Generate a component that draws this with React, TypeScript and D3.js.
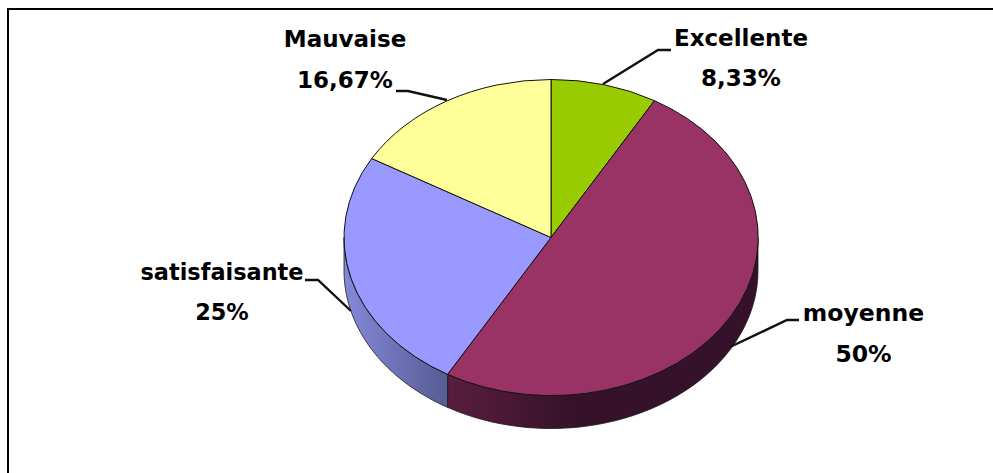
import React from "react";
import * as d3 from "d3";

const categories = ["Excellente", "moyenne", "satisfaisante", "Mauvaise"];
const shares = [8.33, 50, 25, 16.67];
const shareLabels = ["8,33%", "50%", "25%", "16,67%"];
const topColors = ["#99cc00", "#993366", "#9999ff", "#ffff99"];
const wallLight = ["#6b8f00", "#5a1d3e", "#8389d8", "#b3b36b"];
const wallDark = ["#3f5500", "#36122a", "#565c94", "#77774a"];
const wallTurn = [1, 0.4, 1, 1];

const W = 993, H = 473;
const cx = 551, cy = 237.5, rx = 207, ry = 158, depth = 33;

const LABELS: Record<string, { x: number; y1: number; y2: number; size: number; leader: [number, number][] }> = {
  Excellente: { x: 741, y1: 45.5, y2: 86, size: 23, leader: [[603, 84], [658, 50], [671, 50]] },
  moyenne: { x: 863.5, y1: 321, y2: 362, size: 23.5, leader: [[730, 347], [787, 320], [799, 320]] },
  satisfaisante: { x: 222, y1: 280, y2: 319.5, size: 22.4, leader: [[351, 311], [318, 280], [305, 280]] },
  Mauvaise: { x: 345, y1: 47, y2: 88, size: 23, leader: [[447, 100], [408, 91], [396, 91]] },
};

export default function App() {
  const pie = d3.pie<number>().sort(null).value((d) => d);
  const arcs = pie(shares);
  const arc = d3.arc<d3.PieArcDatum<number>>().innerRadius(0).outerRadius(rx);
  const line = d3.line();
  const px = (a: number, dy = 0): [number, number] => [
    cx + rx * Math.sin(a),
    cy + dy - ry * Math.cos(a),
  ];
  const walls = arcs
    .map((a, i) => {
      const lo = Math.max(a.startAngle, Math.PI / 2);
      const hi = Math.min(a.endAngle, (3 * Math.PI) / 2);
      if (hi <= lo) return null;
      const top = d3.range(0, 61).map((k) => px(lo + ((hi - lo) * k) / 60));
      const bottom = top.map(([x, y]) => [x, y + depth] as [number, number]).reverse();
      return { i, d: line([...top, ...bottom]) + "Z", x0: px(hi)[0], x1: px(lo)[0] };
    })
    .filter(Boolean) as { i: number; d: string; x0: number; x1: number }[];

  return (
    <svg width={W} height={H} style={{ position: "absolute", left: 0, top: 0, background: "#fff" }}>
      <defs>
        {walls.map((w) => (
          <linearGradient key={w.i} id={`wall${w.i}`} gradientUnits="userSpaceOnUse" x1={w.x0} x2={w.x1} y1={0} y2={0}>
            <stop offset="0" stopColor={wallLight[w.i]} />
            <stop offset={wallTurn[w.i]} stopColor={wallDark[w.i]} />
          </linearGradient>
        ))}
      </defs>
      <path d={`M8,${H}V9H${W}`} fill="none" stroke="#000" strokeWidth={2} />
      {walls.map((w) => (
        <path key={w.i} d={w.d} fill={`url(#wall${w.i})`} stroke="#1a1a1a" strokeWidth={0.8} />
      ))}
      <g transform={`translate(${cx},${cy}) scale(1,${ry / rx})`}>
        {arcs.map((a, i) => (
          <path key={i} d={arc(a) ?? ""} fill={topColors[i]} stroke="#111" strokeWidth={1} vectorEffect="non-scaling-stroke" />
        ))}
      </g>
      {categories.map((c, i) => {
        const l = LABELS[c];
        return (
          <g key={c}>
            <path d={line(l.leader) ?? ""} fill="none" stroke="#111" strokeWidth={2.4} />
            <text x={l.x} y={l.y1} textAnchor="middle" fontFamily="DejaVu Sans" fontWeight="bold" fontSize={l.size} fill="#000">{c}</text>
            <text x={l.x} y={l.y2} textAnchor="middle" fontFamily="DejaVu Sans" fontWeight="bold" fontSize={l.size} fill="#000">{shareLabels[i]}</text>
          </g>
        );
      })}
    </svg>
  );
}
